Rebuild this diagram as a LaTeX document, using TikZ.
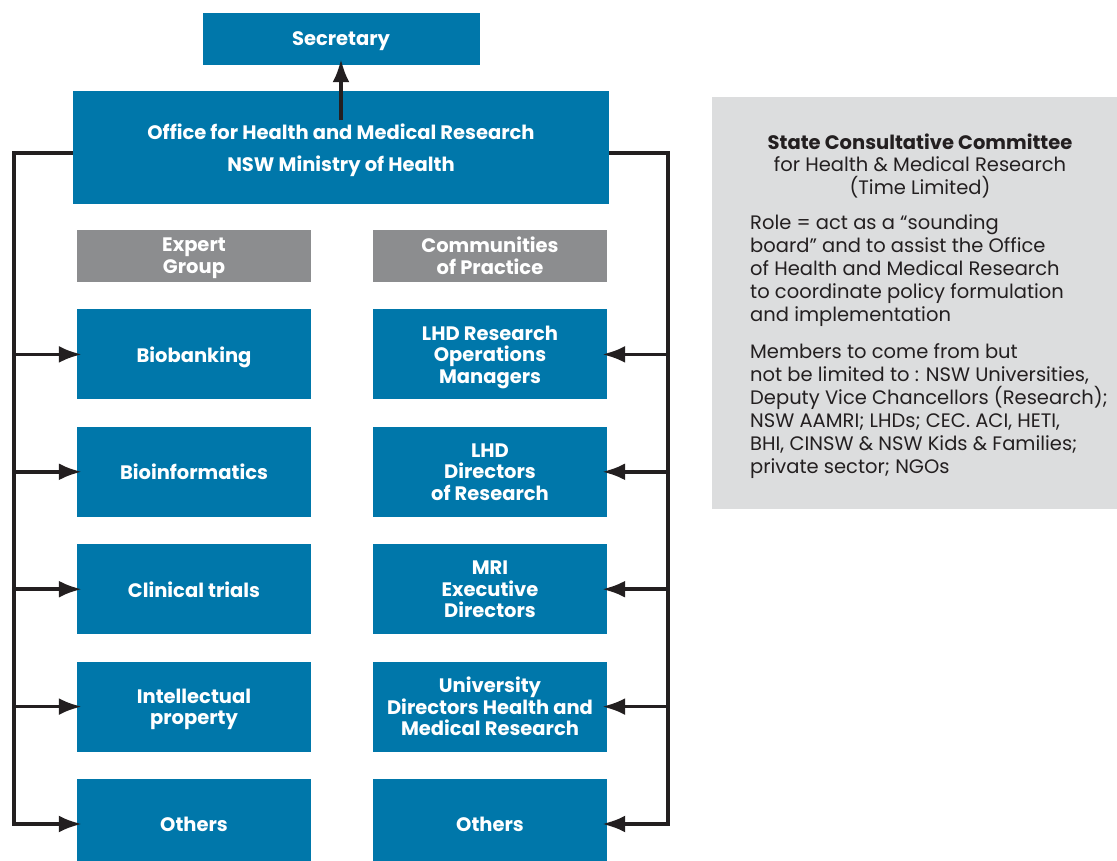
\documentclass[tikz,border=0pt]{standalone}
\usepackage{fontspec}
\setmainfont{Poppins}
\usetikzlibrary{positioning}
\usetikzlibrary{arrows.meta}
\definecolor{nswblue}{HTML}{0077AA}
\definecolor{hdrgrey}{HTML}{8C8D8F}
\definecolor{panelgrey}{HTML}{DCDDDE}
\definecolor{inkdark}{HTML}{231F20}

\begin{document}
\begin{tikzpicture}[
                          x=1pt, y=-1pt,
                          >={Latex[length=23pt,width=17pt]},
                          node distance=27pt,
                          bluebox/.style={rectangle, fill=nswblue, text=white, inner sep=0pt, text depth=0pt, align=center, minimum width=234pt, minimum height=90pt, font=\bfseries\fontsize{19.5}{21.5}\selectfont},
                          headbox/.style={rectangle, fill=hdrgrey, text=white, inner sep=0pt, text depth=0pt, align=center, minimum width=234pt, minimum height=52pt, font=\bfseries\fontsize{19.5}{22}\selectfont},
                          paneltext/.style={text=inkdark, inner sep=0pt, text depth=0pt, font=\fontsize{19.5}{23}\selectfont},
                          link/.style={draw=inkdark, line width=3.6pt},
                      ]
                      \useasboundingbox (0,0) rectangle (1117,861);

                      %Nodes
                      \node[bluebox, minimum width=277pt, minimum height=52pt]   (secretary)  at (341,39)              {Secretary};
                      \node[bluebox, minimum width=536pt, minimum height=113pt,
                            font=\bfseries\fontsize{19.5}{32}\selectfont]      (office)     [below=26pt of secretary] {Office for Health and Medical Research\\NSW Ministry of Health};

                      \node[headbox]    (expert)     at (194,256)               {Expert\\Group};
                      \node[headbox]    (practice)   at (490,256)               {Communities\\of Practice};

                      \node[bluebox]    (biobank)    [below=of expert]          {Biobanking};
                      \node[bluebox]    (bioinf)     [below=of biobank]         {Bioinformatics};
                      \node[bluebox]    (clinical)   [below=of bioinf]          {Clinical trials};
                      \node[bluebox]    (ip)         [below=of clinical]        {Intellectual\\property};
                      \node[bluebox]    (othersL)    [below=of ip]              {Others};

                      \node[bluebox]    (ops)        [below=of practice]        {LHD Research\\Operations\\Managers};
                      \node[bluebox]    (directors)  [below=of ops]             {LHD\\Directors\\of Research};
                      \node[bluebox]    (mri)        [below=of directors]       {MRI\\Executive\\Directors};
                      \node[bluebox]    (uni)        [below=of mri]             {University\\Directors Health and\\Medical Research};
                      \node[bluebox]    (othersR)    [below=of uni]             {Others};

                      %Committee panel
                      \node[rectangle, fill=panelgrey, inner sep=0pt, minimum width=405pt, minimum height=412pt] (panel) at (914.5,303) {};
                      \node[paneltext, align=center, font=\fontsize{19.5}{22.5}\selectfont] (scctitle) at (920,164)
                          {\textbf{State Consultative Committee}\\for Health \& Medical Research\\(Time Limited)};
                      \node[paneltext, align=left, anchor=south west] (sccrole) at (750,322)
                          {Role = act as a “sounding\\board” and to assist the Office\\of Health and Medical Research\\to coordinate policy formulation\\and implementation};
                      \node[paneltext, align=left, anchor=south west] (sccmembers) at (750,474)
                          {Members to come from but\\not be limited to : NSW Universities,\\Deputy Vice Chancellors (Research);\\NSW AAMRI; LHDs; CEC. ACI, HETI,\\BHI, CINSW \& NSW Kids \& Families;\\private sector; NGOs};

                      %Lines
                      \coordinate (lbus) at (14,153);
                      \coordinate (rbus) at (668,153);
                      \draw[link, ->, shorten >=-6pt] ([yshift=-29pt]office.north) -- (secretary.south);
                      \draw[link, ->, shorten >=-5pt] (office.west |- lbus) -- (lbus) |- (othersL.west);
                      \draw[link, ->, shorten >=-5pt] (office.east |- rbus) -- (rbus) |- (othersR.east);
                      \foreach \n in {biobank,bioinf,clinical,ip}
                          \draw[link, ->, shorten >=-5pt] (lbus |- \n.west) -- (\n.west);
                      \foreach \n in {ops,directors,mri,uni}
                          \draw[link, ->, shorten >=-5pt] (rbus |- \n.east) -- (\n.east);
                  \end{tikzpicture}
\end{document}
